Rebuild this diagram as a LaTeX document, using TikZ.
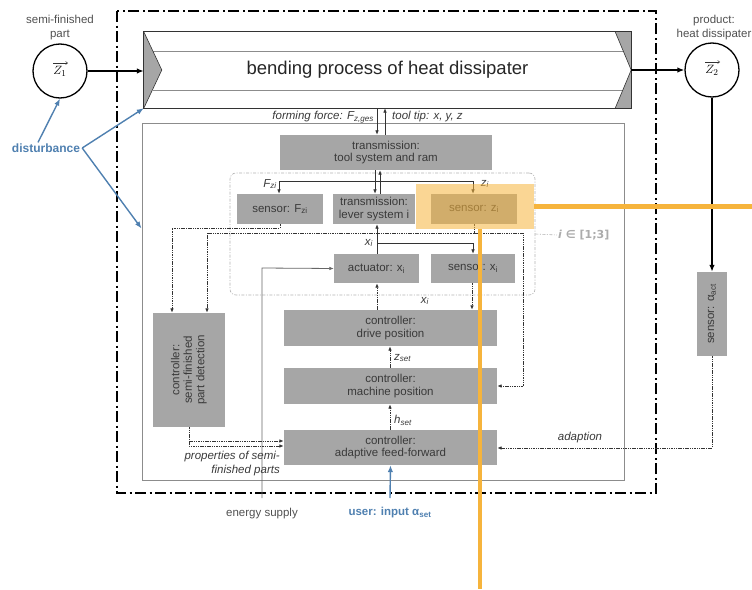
\documentclass[tikz,border=0pt]{standalone}
\usepackage[no-math]{fontspec}
\setmainfont{Liberation Sans}
\newfontfamily\djv{DejaVu Sans}
\usetikzlibrary{arrows.meta,calc}
\definecolor{boxgray}{HTML}{A6A6A6}
\definecolor{boxtext}{HTML}{3A3A3A}
\definecolor{linecol}{HTML}{333333}
\definecolor{framegray}{HTML}{8C8C8C}
\definecolor{labgray}{HTML}{505050}
\definecolor{distblue}{HTML}{4F80B0}
\definecolor{hiorange}{HTML}{F6B43C}
\newcommand\bxfont{\fontsize{11.5}{12.5}\selectfont}
\newcommand\lbfont{\fontsize{11.5}{14}\selectfont}
\begin{document}
\begin{tikzpicture}[x=1pt,y=-1pt,
  box/.style={fill=boxgray, text=boxtext, inner sep=0pt, align=center, font=\bxfont},
  ln/.style={draw=linecol, line width=0.8pt},
  arr/.style={ln, -{Latex[length=4.5pt,width=3.6pt]}},
  dotln/.style={ln, line width=1pt, dash pattern=on 1.5pt off 0.8pt},
  dotarr/.style={dotln, -{Latex[length=4.5pt,width=3.6pt]}},
  thk/.style={draw=black, line width=1.5pt, -{Latex[length=7pt,width=5.5pt]}},
  barr/.style={draw=distblue, line width=1.4pt, -{Latex[length=7pt,width=5.5pt]}},
  lbl/.style={text=labgray, font=\lbfont, align=center, inner sep=1pt},
  itl/.style={text=boxtext, font=\lbfont\itshape, inner sep=1pt},
  zcirc/.style={circle, draw=black, line width=1.3pt, minimum size=54pt, inner sep=0pt,
    font=\fontsize{13}{13}\selectfont},
  vecarrow/.style={draw=black!80, line width=0.5pt, -{Straight Barb[length=2pt,width=3pt]}}]
\useasboundingbox (0,0) rectangle (752,589);

% system boundary
\draw[line width=1.5pt, dash pattern=on 11pt off 3.5pt on 2pt off 3.5pt] (117,11) rectangle (656,493);

% control system frame
\node[draw=framegray, line width=0.9pt, minimum width=482pt, minimum height=357pt, inner sep=0pt] (ctrl) at (383,301.5) {};

% bending process (chevron band)
\node[minimum width=487pt, minimum height=76pt, inner sep=0pt,
      font=\fontsize{18.5}{18.5}\selectfont, text=black!85] (proc) at (387.5,70) {bending process of heat dissipater};
\fill[boxgray] (proc.north west) -- ($(proc.west)+(18,0)$) -- (proc.south west) -- cycle;
\fill[boxgray] (proc.north east) -- ($(proc.north east)+(-16,0)$) -- (proc.east) -- cycle;
\fill[boxgray] (proc.south east) -- ($(proc.south east)+(-16,0)$) -- (proc.east) -- cycle;
\draw[framegray, line width=0.8pt] (153,51) -- (623,51) (153,90) -- (623,90);
\draw[linecol, line width=0.6pt] (proc.north west) -- ($(proc.west)+(18,0)$) -- (proc.south west);
\draw[linecol, line width=0.6pt] ($(proc.north east)+(-16,0)$) -- (proc.east) -- ($(proc.south east)+(-16,0)$);
\draw[linecol, line width=1.1pt] (proc.north west) rectangle (proc.south east);

% input / output parts (vectors of part properties)
\node[zcirc] (z1) at (60,71) {$Z_1$};
\node[zcirc] (z2) at (712,70) {$Z_2$};
\draw[vecarrow] ($(z1.center)+(-7,-8)$) -- ($(z1.center)+(8,-8)$);
\draw[vecarrow] ($(z2.center)+(-7,-8)$) -- ($(z2.center)+(8,-8)$);
\node[lbl] (inlab) at (60,27.5) {semi-finished\\part};
\node[lbl] (outlab) at (714,28) {product:\\heat dissipater};

% blocks
\node[box, minimum width=212pt, minimum height=35pt] (tool) at (386,152.5) {transmission:\\tool system and ram};
\node[draw=gray!60, line width=0.6pt, rounded corners=6pt, dash pattern=on 3pt off 1.5pt on 1pt off 1.5pt,
      minimum width=305pt, minimum height=122pt, inner sep=0pt] (grp) at (382.5,234) {};
\node[box, minimum width=86pt, minimum height=30pt] (sfz) at (280,209) {sensor: F\textsubscript{zi}};
\node[box, minimum width=82pt, minimum height=30pt] (lever) at (374,209) {transmission:\\lever system i};
\node[box, minimum width=86pt, minimum height=30pt] (szi) at (474,209) {sensor: z\textsubscript{i}};
\node[box, minimum width=85pt, minimum height=29pt] (act) at (376.5,268.5) {actuator: x\textsubscript{i}};
\node[box, minimum width=84pt, minimum height=29pt] (sxi) at (473,268.5) {sensor: x\textsubscript{i}};
\node[box, minimum width=213pt, minimum height=36pt] (drive) at (390.5,328) {controller:\\drive position};
\node[box, minimum width=213pt, minimum height=36pt] (mach) at (390.5,386) {controller:\\machine position};
\node[box, minimum width=213pt, minimum height=35pt] (ff) at (390.5,447.5) {controller:\\adaptive feed-forward};
\node[box, rotate=90, minimum width=114pt, minimum height=72pt] (semi) at (189,370) {controller:\\semi-finished\\part detection};
\node[box, rotate=90, minimum width=84pt, minimum height=30pt] (salpha) at (712,314) {sensor: α\textsubscript{act}};

% range of the index i
\node[text=gray!65, font=\djv\bfseries\fontsize{11}{11}\selectfont, inner sep=1pt, anchor=west] (irange) at (557,235) {\textit{i} ∈ [1;3]};
\draw[gray!60, line width=0.6pt, dash pattern=on 3pt off 1.5pt on 1pt off 1.5pt] (grp.east) -- (irange.west);

% material flow
\draw[thk] (z1.east) -- (proc.west |- z1.east);
\draw[thk] (proc.east) -- (z2.west);
\draw[thk] (z2.south) -- (salpha.east);

% forces and positions at the tool
\draw[arr] (377,0 |- proc.south) -- (377,0 |- tool.north);
\draw[arr] (385,0 |- tool.north) -- (385,0 |- proc.south);
\node[itl, anchor=east] (fflab) at (375,117) {forming force: F\textsubscript{z,ges}};
\node[itl, anchor=west] (ttlab) at (391,117) {tool tip: x, y, z};

\coordinate (tsplit) at (375,181);
\draw[ln] (375,0 |- tool.south) -- (tsplit);
\draw[arr] (tsplit) -- (279,181) -- (279,0 |- sfz.north);
\draw[arr] (tsplit) -- (473,181) -- (473,0 |- szi.north);
\draw[arr] (tsplit) -- (375,0 |- lever.north);
\draw[arr] (380,0 |- lever.north) -- (380,0 |- tool.south);
\node[itl] (fzlab) at (270,184) {F\textsubscript{zi}};
\node[itl] (zilab) at (485,184) {z\textsubscript{i}};

\coordinate (xsplit) at (377,243);
\draw[arr] (377,0 |- act.north) -- (377,0 |- lever.south);
\draw[arr] (xsplit) -- (473,243) -- (473,0 |- sxi.north);
\node[itl] (xilab1) at (369,243) {x\textsubscript{i}};

% energy supply
\coordinate (es) at (262,498);
\draw[arr, draw=gray!80!black] (es) -- (262,268) -- (act.west);
\node[lbl] (eslab) at (262,514) {energy supply};

% measured signals
\draw[dotarr] (280,0 |- sfz.south) -- (280,228) -- (172,228) -- (172,0 |- semi.east);
\coordinate (zsplit) at (474,233);
\draw[dotln] (474,0 |- szi.south) -- (zsplit);
\draw[dotarr] (zsplit) -- (207,233) -- (207,0 |- semi.east);
\draw[dotarr] (zsplit) -- (523,233) -- (523,0 |- mach.east) -- (mach.east);
\draw[dotarr] (472,0 |- sxi.south) -- (472,0 |- drive.north);
\node[itl] (xilab2) at (425,301) {x\textsubscript{i}};

% controller cascade
\draw[dotarr] (377,0 |- drive.north) -- (377,0 |- act.south);
\draw[dotarr] (390,0 |- mach.north) -- (390,0 |- drive.south);
\draw[dotarr] (390,0 |- ff.north) -- (390,0 |- mach.south);
\node[itl, anchor=west] (zset) at (393,358) {z\textsubscript{set}};
\node[itl, anchor=west] (hset) at (393,420) {h\textsubscript{set}};

% semi-finished part properties
\coordinate (ssplit) at (189,441);
\draw[dotarr] (189,0 |- semi.west) -- (ssplit) -- (ff.west |- 0,441);
\draw[dotarr] (ssplit) -- (189,446) -- (ff.west |- 0,446);
\node[itl, align=right, anchor=east, font=\fontsize{11.5}{14}\selectfont\itshape] (proplab) at (281,464) {properties of semi-\\finished parts};

% adaption
\draw[dotarr] (salpha.west) -- (712,448) -- (ff.east |- 0,448);
\node[itl] (adlab) at (580,438) {adaption};

% user input
\coordinate (ui) at (390,498);
\draw[barr] (ui) -- (ff.south);
\node[text=distblue, font=\fontsize{11.5}{12}\selectfont\bfseries, inner sep=1pt] (uin) at (390,513) {user: input α\textsubscript{set}};

% disturbances
\node[text=distblue, font=\fontsize{12}{12}\selectfont\bfseries, inner sep=2pt] (dist) at (46,148) {disturbance};
\draw[barr] ($(dist.north)+(-8,1)$) -- (z1.south);
\draw[barr] (dist.east) -- (proc.south west);
\draw[barr] (dist.east) -- ($(ctrl.north west)+(0,106)$);

% highlighted sensor and its callout lines
\node[fill=hiorange, fill opacity=0.55, minimum width=118pt, minimum height=45pt, inner sep=0pt] (hl) at (475,206.5) {};
\coordinate (hlr) at (752,206.5);
\coordinate (hlb) at (480,589);
\draw[hiorange, line width=4.5pt] (hl.east) -- (hlr);
\draw[hiorange, line width=4.5pt] (480,0 |- hl.south) -- (hlb);
\end{tikzpicture}
\end{document}
